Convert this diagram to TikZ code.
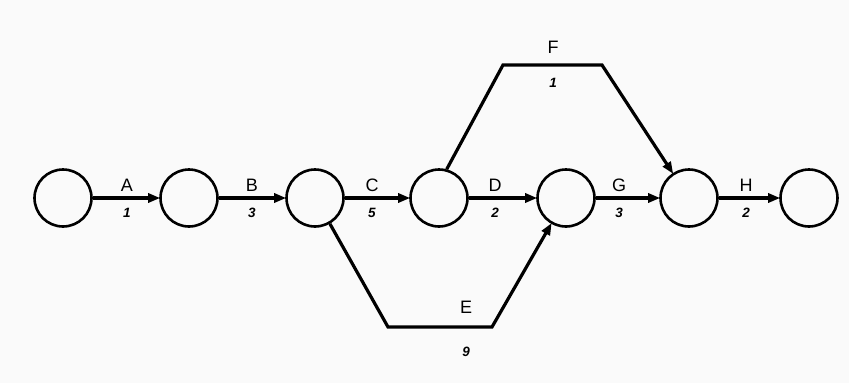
\documentclass[tikz,border=0pt]{standalone}
\usepackage{fontspec}
\setmainfont{Liberation Sans}
\usetikzlibrary{arrows.meta}
\begin{document}
\begin{tikzpicture}[x=1pt,y=-1pt,
  event/.style={draw=black,line width=2.6pt,circle,minimum size=57pt,inner sep=0pt},
  act/.style={line width=3.2pt,-{Triangle[length=12pt,width=9pt]},shorten >=-1pt},
  lbl/.style={font=\fontsize{18}{18}\selectfont,inner sep=0pt},
  dur/.style={font=\fontsize{13.5}{13.5}\selectfont\bfseries\itshape,inner sep=0pt}]
\fill[gray!4] (0,0) rectangle (849,383);
\useasboundingbox (0,0) rectangle (849,383);
\node[event] (n1) at (63,198) {};
\node[event] (n2) at (189,198) {};
\node[event] (n3) at (315,198) {};
\node[event] (n4) at (439,198) {};
\node[event] (n5) at (566,198) {};
\node[event] (n6) at (689,198) {};
\node[event] (n7) at (809,198) {};
\coordinate (f1) at (503,65);
\coordinate (f2) at (602,65);
\coordinate (e1) at (388,327);
\coordinate (e2) at (492,327);
\draw[act] (n1) -- (n2);
\draw[act] (n2) -- (n3);
\draw[act] (n3) -- (n4);
\draw[act] (n4) -- (n5);
\draw[act] (n5) -- (n6);
\draw[act] (n6) -- (n7);
\draw[act,line join=miter] (n4.75) -- (f1) -- (f2) -- (n6);
\draw[act,line join=miter] (n3.-60) -- (e1) -- (e2) -- (n5);
\node[lbl] (la) at (127,185) {A};
\node[dur] (da) at (127,213) {1};
\node[lbl] (lb) at (252,185) {B};
\node[dur] (db) at (252,213) {3};
\node[lbl] (lc) at (372,185) {C};
\node[dur] (dc) at (372,213) {5};
\node[lbl] (ld) at (495,185) {D};
\node[dur] (dd) at (495,213) {2};
\node[lbl] (lg) at (619,185) {G};
\node[dur] (dg) at (619,213) {3};
\node[lbl] (lh) at (746,185) {H};
\node[dur] (dh) at (746,213) {2};
\node[lbl] (lf) at (553,47) {F};
\node[dur] (df) at (553,83) {1};
\node[lbl] (le) at (466,307) {E};
\node[dur] (de) at (466,352) {9};
\end{tikzpicture}
\end{document}
